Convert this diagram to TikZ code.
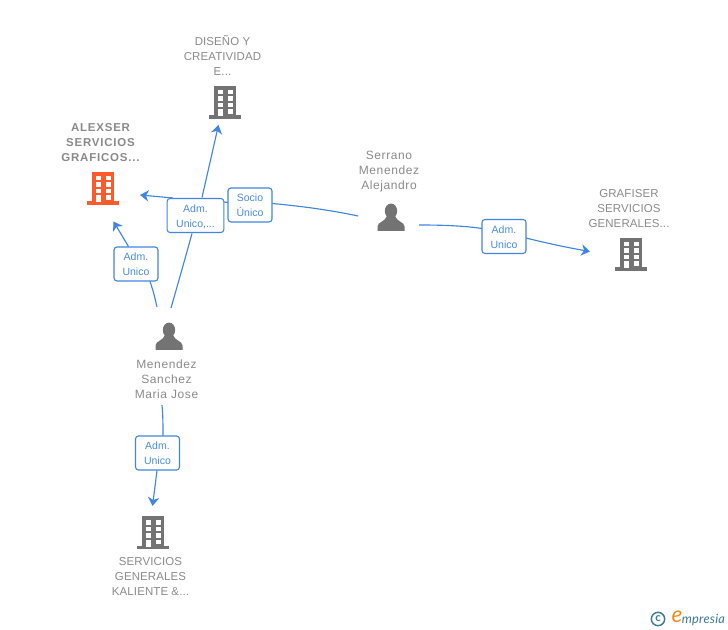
\documentclass[tikz,border=0pt]{standalone}
\usepackage{fontspec}
\setmainfont{Liberation Sans}
\newfontfamily\logofont{Lato}
\usetikzlibrary{arrows.meta}
\definecolor{txtgray}{HTML}{8A8A8A}
\definecolor{icongray}{HTML}{737373}
\definecolor{iconorange}{HTML}{FF5A2B}
\definecolor{linkblue}{HTML}{3F86E3}
\definecolor{linktext}{HTML}{4A8BE0}
\definecolor{logoteal}{HTML}{3B7C93}
\definecolor{logoorange}{HTML}{F08A1D}
\tikzset{
  x=0.75pt,y=-0.75pt,
  conn/.style={draw=linkblue,line width=0.85pt},
  connarrow/.style={conn,-{Stealth[length=6.5pt,width=8.5pt,inset=2pt]}},
  linkbox/.style={draw=linkblue,line width=0.8pt,rounded corners=2.2pt,fill=white,inner sep=0pt,
    minimum height=25.5pt},
  linktxt/.style={text=linktext,font=\fontsize{7.9pt}{11.3pt}\selectfont,align=center,inner sep=0pt},
  nametext/.style={text=txtgray,font=\addfontfeatures{LetterSpace=1}\fontsize{8.6pt}{11.25pt}\selectfont,align=center,inner sep=0pt},
  persontext/.style={text=txtgray,font=\addfontfeatures{LetterSpace=5}\fontsize{9pt}{11.25pt}\selectfont,align=center,inner sep=0pt},
  boldtext/.style={text=txtgray,font=\addfontfeatures{LetterSpace=7}\fontsize{8.6pt}{11.25pt}\selectfont\bfseries,align=center,inner sep=0pt},
  anchorpt/.style={inner sep=0pt,minimum size=24pt},
  pics/building/.style={code={
    \fill[#1] (-11,-16.5) rectangle (11,14);
    \fill[#1] (-16,13) rectangle (16,16.5);
    \foreach \yy in {-12.5,-6,0.5}{
      \fill[white] (-7.5,\yy) rectangle (-2.5,{\yy+4.5});
      \fill[white] (2.5,\yy) rectangle (7.5,{\yy+4.5});
    }
    \fill[white] (2.5,7) rectangle (7.5,11.5);
    \fill[white] (-7.5,7) rectangle (-2.5,14);
  }},
  pics/person/.style={code={
    \fill[icongray] (0,-7) ellipse (6.2 and 7.4);
    \fill[icongray] (-13.5,13) -- (-13.5,8.5) .. controls (-13.5,4) and (-6,4) .. (-4,-2)
       -- (4,-2) .. controls (6,4) and (13.5,4) .. (13.5,8.5) -- (13.5,13) -- cycle;
  }},
}
\begin{document}
\begin{tikzpicture}
\useasboundingbox (0,0) rectangle (728,630);
% icons
\node[anchorpt] (alexser) at (103,188.5) {};
\pic at (alexser) {building=iconorange};
\node[anchorpt] (diseno) at (225,102.5) {};
\pic at (diseno) {building=icongray};
\node[anchorpt] (grafiser) at (631,254.5) {};
\pic at (grafiser) {building=icongray};
\node[anchorpt] (servicios) at (153,532.5) {};
\pic at (servicios) {building=icongray};
\node[anchorpt] (menendez) at (169,337) {};
\pic at (menendez) {person};
\node[anchorpt] (serrano) at (391,218) {};
\pic at (serrano) {person};
% names
\node[boldtext] (talexser) at (100.5,143) {ALEXSER\\SERVICIOS\\GRAFICOS...};
\node[nametext] (tdiseno) at (222.5,55) {DISEÑO Y\\CREATIVIDAD\\E...};
\node[nametext] (tgrafiser) at (629,209) {GRAFISER\\SERVICIOS\\GENERALES...};
\node[nametext] (tservicios) at (150.5,577) {SERVICIOS\\GENERALES\\KALIENTE \&...};
\node[persontext] (tmenendez) at (166.5,379) {Menendez\\Sanchez\\Maria Jose};
\node[persontext] (tserrano) at (389,172) {Serrano\\Menendez\\Alejandro};
% connector ends
\coordinate (m1) at (157,307);
\coordinate (m2) at (171,308);
\coordinate (m3) at (162,405);
\coordinate (s1) at (358,216);
\coordinate (s2) at (419,225);
\coordinate (a1) at (113.5,221.5);
\coordinate (a2) at (140,195);
\coordinate (d1) at (218.5,125);
\coordinate (g1) at (590,251.5);
\coordinate (v1) at (152.5,506);
\coordinate (b1) at (150,281.5);
\coordinate (b1t) at (128.5,246.5);
\coordinate (b2) at (192,233.5);
\coordinate (b2t) at (202,197.5);
\coordinate (b2l) at (173,198);
\coordinate (b2r) at (224,202);
\coordinate (b3l) at (228,202.5);
\coordinate (b3r) at (272,203.5);
\coordinate (b4l) at (482,228.5);
\coordinate (b4r) at (526,238);
\coordinate (b5t) at (163,436);
\coordinate (b5b) at (157,470.5);
% connectors
\draw[conn] (m1) .. controls (155,298) and (153,290) .. (b1);
\draw[connarrow] (b1t) -- (a1);
\draw[conn] (m2) .. controls (177,287) and (185,259) .. (b2);
\draw[connarrow] (b2t) -- (d1);
\draw[conn] (s1) .. controls (330,210) and (300,206) .. (b3r);
\draw[conn] (b3l) -- (b2r);
\draw[connarrow] (b2l) -- (a2);
\draw[conn] (m3) .. controls (163,415) and (163,426) .. (b5t);
\draw[connarrow] (b5b) -- (v1);
\draw[conn] (s2) .. controls (445,225) and (465,226) .. (b4l);
\draw[connarrow] (b4r) .. controls (550,244) and (570,248) .. (g1);
% link labels
\node[linkbox,minimum width=33pt] (lb1) at (136,264) {};
\node[linktxt] (lt1) at (136,264.5) {Adm.\\Unico};
\node[linkbox,minimum width=42.5pt] (lb2) at (195.5,215.5) {};
\node[linktxt] (lt2) at (195.5,217) {Adm.\\Unico,...};
\node[linkbox,minimum width=33pt] (lb3) at (250,205) {};
\node[linktxt] (lt3) at (250,205) {Socio\\Único};
\node[linkbox,minimum width=33pt] (lb4) at (504,236.5) {};
\node[linktxt] (lt4) at (504,237.5) {Adm.\\Unico};
\node[linkbox,minimum width=33pt] (lb5) at (157.5,453) {};
\node[linktxt] (lt5) at (157.5,453.5) {Adm.\\Unico};
% logo
\node[draw=logoteal,line width=1.1pt,circle,inner sep=0pt,minimum size=10pt] (copyr) at (658,619) {};
\node[text=logoteal,font=\logofont\bfseries\fontsize{8.5pt}{9pt}\selectfont,inner sep=0pt] (copyc) at (658,618.5) {c};
\node[text=logoorange,font=\logofont\itshape\fontsize{17pt}{17pt}\selectfont,inner sep=0pt] (logoe) at (677,617) {e};
\node[text=logoteal,anchor=west,font=\logofont\itshape\addfontfeatures{LetterSpace=2}\fontsize{9.6pt}{10pt}\selectfont,inner sep=0pt] (logot) at (681.5,620) {mpresia};
\end{tikzpicture}
\end{document}
